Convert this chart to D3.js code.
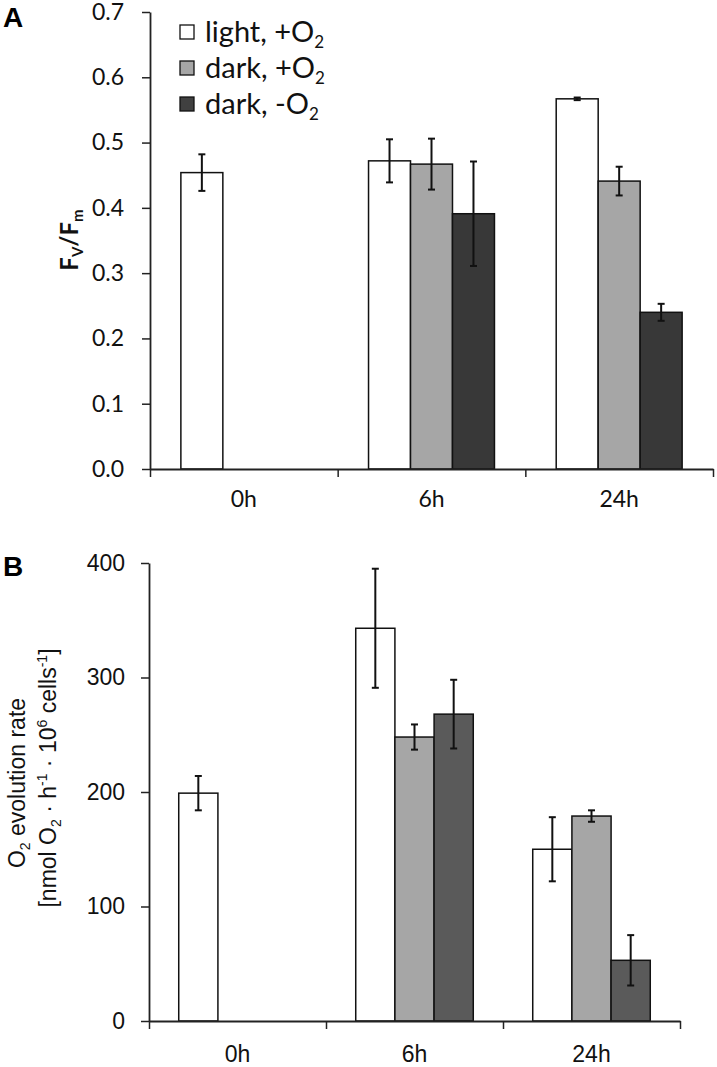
<!DOCTYPE html>
<html><head><meta charset="utf-8">
<script src="https://cdn.jsdelivr.net/npm/d3@7"></script>
<style>body{margin:0;background:#fff} svg{display:block}</style>
</head><body>
<svg id="chart" width="717" height="1067"></svg>
<script>
// ---------- data ----------
const categories = ["0h", "6h", "24h"];
const seriesNames = ["light, +O", "dark, +O", "dark, -O"];

// Panel A : Fv/Fm
const fvfmLight      = [0.454, 0.472, 0.567];
const fvfmDarkO2     = [null,  0.467, 0.441];
const fvfmDarkNoO2   = [null,  0.391, 0.240];
const fvfmLightErr   = [0.028, 0.033, 0.002];
const fvfmDarkO2Err  = [null,  0.039, 0.022];
const fvfmDarkNoO2Err= [null,  0.080, 0.013];
const fvfmTicks = [0, 0.1, 0.2, 0.3, 0.4, 0.5, 0.6, 0.7];

// Panel B : O2 evolution rate
const o2Light       = [199, 343, 150];
const o2DarkO2      = [null, 248, 179];
const o2DarkNoO2    = [null, 268, 53];
const o2LightErr    = [15, 52, 28];
const o2DarkO2Err   = [null, 11, 5];
const o2DarkNoO2Err = [null, 30, 22];
const o2Ticks = [0, 100, 200, 300, 400];

// ---------- drawing ----------
const svg = d3.select("#chart");

function drawPanel(cfg) {
  const g = svg.append("g");
  const y = d3.scaleLinear().domain([0, cfg.max]).range([cfg.y0, cfg.y1]);
  const xb = d3.scaleBand().domain(categories).range([cfg.x0, cfg.x1]).padding(0);
  const bw = xb.bandwidth();
  const inner = d3.scaleBand().domain([0, 1, 2])
    .range([bw * (1 - cfg.group) / 2, bw * (1 + cfg.group) / 2]).padding(0);

  // bars
  cfg.values.forEach((vals, s) => {
    g.append("g").selectAll("rect")
      .data(vals.map((v, i) => ({v, i})).filter(d => d.v != null))
      .join("rect")
      .attr("x", d => xb(categories[d.i]) + inner(s))
      .attr("y", d => y(d.v))
      .attr("width", inner.bandwidth())
      .attr("height", d => y(0) - y(d.v))
      .attr("fill", cfg.colors[s])
      .attr("stroke", "#111")
      .attr("stroke-width", 1.5);
  });
  // error bars
  cfg.values.forEach((vals, s) => {
    const errs = cfg.errors[s];
    const data = vals.map((v, i) => ({v, e: errs[i], i})).filter(d => d.v != null);
    const eg = g.append("g").attr("stroke", "#111").attr("stroke-width", 2);
    data.forEach(d => {
      const cx = xb(categories[d.i]) + inner(s) + inner.bandwidth() / 2;
      const yt = y(d.v + d.e), yb = y(d.v - d.e);
      eg.append("line").attr("x1", cx).attr("x2", cx).attr("y1", yt).attr("y2", yb);
      eg.append("line").attr("x1", cx - 3.5).attr("x2", cx + 3.5).attr("y1", yt).attr("y2", yt);
      eg.append("line").attr("x1", cx - 3.5).attr("x2", cx + 3.5).attr("y1", yb).attr("y2", yb);
    });
  });

  // y axis
  const ya = g.append("g").attr("transform", `translate(${cfg.x0},0)`)
    .call(d3.axisLeft(y).tickValues(cfg.ticks).tickFormat(cfg.fmt).tickSize(8).tickSizeOuter(0).tickPadding(cfg.tickPad));
  ya.select(".domain").attr("stroke", "#222").attr("stroke-width", 1.8);
  ya.selectAll(".tick line").attr("stroke", "#222").attr("stroke-width", 1.5);
  ya.selectAll(".tick text").attr("font-family", cfg.font).attr("font-size", cfg.tickSize).attr("fill", "#111");

  // x axis: boundary ticks
  const xl = d3.scaleLinear().domain([0, categories.length]).range([cfg.x0, cfg.x1]);
  const xa = g.append("g").attr("transform", `translate(0,${cfg.y0})`)
    .call(d3.axisBottom(xl).tickValues(d3.range(categories.length + 1)).tickFormat("").tickSize(8).tickSizeOuter(0));
  xa.select(".domain").attr("stroke", "#222").attr("stroke-width", 1.8);
  xa.selectAll(".tick line").attr("stroke", "#222").attr("stroke-width", 1.5);
  // category labels
  const xc = g.append("g").attr("transform", `translate(0,${cfg.y0})`)
    .call(d3.axisBottom(xb).tickSize(0).tickPadding(cfg.labelPad));
  xc.select(".domain").remove();
  xc.selectAll(".tick text").attr("font-family", cfg.font).attr("font-size", cfg.tickSize).attr("fill", "#111");
  return {g, y, xb};
}

// Panel A
const A = drawPanel({
  x0: 150, x1: 713, y0: 469, y1: 12, max: 0.7, group: 0.671,
  values: [fvfmLight, fvfmDarkO2, fvfmDarkNoO2],
  errors: [fvfmLightErr, fvfmDarkO2Err, fvfmDarkNoO2Err],
  colors: ["#ffffff", "#a6a6a6", "#383838"],
  ticks: fvfmTicks, fmt: d3.format(".1f"), font: "Lato", tickSize: 23, tickPad: 18, labelPad: 22
});

// Panel B
const B = drawPanel({
  x0: 149, x1: 680, y0: 1021, y1: 563, max: 400, group: 0.664,
  values: [o2Light, o2DarkO2, o2DarkNoO2],
  errors: [o2LightErr, o2DarkO2Err, o2DarkNoO2Err],
  colors: ["#ffffff", "#a6a6a6", "#5a5a5a"],
  ticks: o2Ticks, fmt: d3.format("d"), font: "Liberation Sans", tickSize: 23, tickPad: 16, labelPad: 25
});

// panel letters
svg.append("text").attr("x", 3).attr("y", 27).text("A")
  .attr("font-family", "Liberation Sans").attr("font-weight", "bold").attr("font-size", 28);
svg.append("text").attr("x", 3).attr("y", 576).text("B")
  .attr("font-family", "Liberation Sans").attr("font-weight", "bold").attr("font-size", 28);

// legend (panel A)
const legendColors = ["#ffffff", "#a6a6a6", "#404040"];
const lg = svg.append("g");
seriesNames.forEach((name, i) => {
  const cy = 32 + i * 36;
  lg.append("rect").attr("x", 180).attr("y", cy - 7).attr("width", 14).attr("height", 14)
    .attr("fill", legendColors[i]).attr("stroke", "#111").attr("stroke-width", 1.3);
  const t = lg.append("text").attr("x", 205).attr("y", cy + 10)
    .attr("font-family", "Lato").attr("font-size", 29).attr("fill", "#111");
  t.append("tspan").text(name);
  t.append("tspan").text("2").attr("font-size", 17).attr("dy", 6);
});

// y label A : Fv/Fm
const ta = svg.append("text").attr("transform", "translate(78,240) rotate(-90)")
  .attr("text-anchor", "middle").attr("font-family", "Lato").attr("font-weight", "bold")
  .attr("font-size", 24).attr("fill", "#111");
ta.append("tspan").text("F");
ta.append("tspan").text("V").attr("font-size", 15).attr("dy", 5);
ta.append("tspan").text("/F").attr("dy", -5);
ta.append("tspan").text("m").attr("font-size", 15).attr("dy", 5);

// y label B
const tb1 = svg.append("text").attr("transform", "translate(25,783) rotate(-90)")
  .attr("text-anchor", "middle").attr("font-family", "Liberation Sans")
  .attr("font-size", 23).attr("fill", "#111");
tb1.append("tspan").text("O");
tb1.append("tspan").text("2").attr("font-size", 14).attr("dy", 5);
tb1.append("tspan").text(" evolution rate").attr("dy", -5);

const tb2 = svg.append("text").attr("transform", "translate(56,778) rotate(-90)")
  .attr("text-anchor", "middle").attr("font-family", "Liberation Sans")
  .attr("font-size", 23).attr("fill", "#111");
tb2.append("tspan").text("[nmol O");
tb2.append("tspan").text("2").attr("font-size", 14).attr("dy", 5);
tb2.append("tspan").text(" \u00b7 h").attr("dy", -5);
tb2.append("tspan").text("-1").attr("font-size", 14).attr("dy", -9);
tb2.append("tspan").text(" \u00b7 10").attr("dy", 9);
tb2.append("tspan").text("6").attr("font-size", 14).attr("dy", -9);
tb2.append("tspan").text(" cells").attr("dy", 9);
tb2.append("tspan").text("-1").attr("font-size", 14).attr("dy", -9);
tb2.append("tspan").text("]").attr("dy", 9);
</script>
</body></html>
